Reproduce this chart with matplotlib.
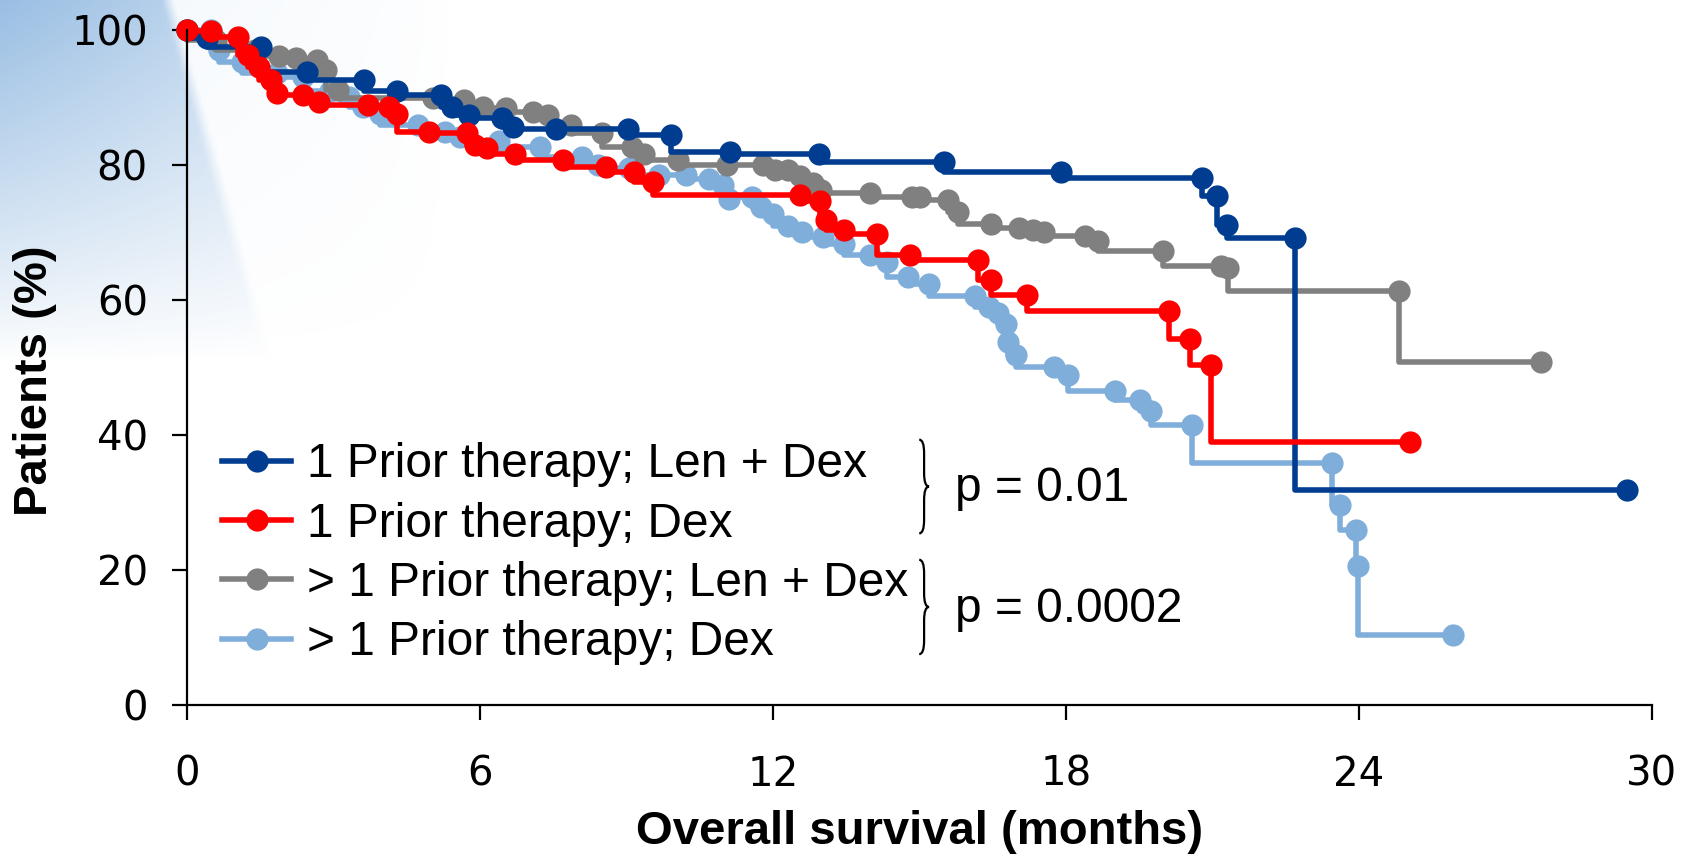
import matplotlib
matplotlib.use("Agg")
import matplotlib.pyplot as plt
import numpy as np
from matplotlib.path import Path
from matplotlib.patches import PathPatch

# Kaplan-Meier curves (months, % alive)
len1_t = [0, 0.42, 1.52, 2.46, 3.64, 4.30, 5.2, 5.44, 5.79, 6.46, 6.69, 7.56, 9.04, 9.91,
          11.12, 12.94, 15.5, 17.9, 20.8, 21.1, 21.3, 22.7, 29.5]
len1_s = [100, 98.8, 97.5, 93.8, 92.6, 90.9, 90.4, 88.6, 87.4, 86.9, 85.7, 85.4, 85.4, 84.4,
          82.0, 81.7, 80.4, 79.0, 78.1, 75.4, 71.1, 69.2, 31.8]

dex1_t = [0, 0.5, 1.05, 1.25, 1.48, 1.72, 1.84, 2.38, 2.70, 3.72, 4.15, 4.30, 4.97, 5.75,
          5.91, 6.15, 6.73, 7.71, 8.58, 9.16, 9.55, 12.55, 12.96, 13.1, 13.47, 14.14, 14.82,
          16.21, 16.47, 17.21, 20.11, 20.54, 20.97, 25.04]
dex1_s = [100, 99.8, 99.0, 96.3, 94.6, 92.6, 90.6, 90.4, 89.4, 88.9, 88.6, 87.6, 84.9, 84.7,
          82.9, 82.5, 81.7, 80.7, 79.7, 79.0, 77.5, 75.5, 74.6, 71.8, 70.4, 69.8, 66.7,
          65.9, 63.0, 60.7, 58.4, 54.2, 50.3, 39.0]

len2_t = [0, 0.6, 1.4, 1.9, 2.23, 2.66, 2.85, 3.09, 5.05, 5.68, 6.07, 6.54, 7.09, 7.40,
          7.87, 8.50, 9.12, 9.36, 10.06, 11.06, 11.8, 12.04, 12.31, 12.55, 12.82, 12.98, 14.0,
          14.86, 15.02, 15.59, 15.8, 16.47, 17.05, 17.33, 17.56, 18.39, 18.66, 19.99, 21.17,
          21.33, 24.82, 27.74]
len2_s = [100, 98.5, 97.0, 96.2, 95.8, 95.6, 94.1, 91.1, 89.9, 89.6, 88.6, 88.4, 87.9, 87.4,
          85.9, 84.7, 82.7, 81.7, 80.7, 80.0, 80.0, 79.3, 79.3, 78.3, 77.3, 76.3, 75.8,
          75.2, 75.2, 74.8, 73.1, 71.2, 70.6, 70.4, 70.0, 69.5, 68.8, 67.2, 65.1,
          64.8, 61.4, 50.8]

dex2_t = [0, 0.5, 0.66, 1.13, 1.84, 2.38, 2.93, 3.32, 3.6, 3.95, 4.73, 5.28, 5.6, 6.4,
          7.24, 8.1, 8.42, 9.05, 9.67, 10.22, 10.7, 10.98, 11.1, 11.57, 11.76, 12.0, 12.31,
          12.59, 13.02, 13.45, 14.0, 14.35, 14.78, 15.21, 16.15, 16.43, 16.62, 16.78, 16.82,
          16.98, 17.76, 18.05, 19.01, 19.52, 19.74, 20.58, 23.45, 23.62, 23.94, 23.98, 25.93]
dex2_s = [100, 100, 97.0, 95.3, 93.6, 93.1, 90.9, 90.1, 88.6, 87.6, 85.9, 84.9, 84.2, 83.5,
          82.7, 81.2, 80.0, 79.5, 78.5, 78.5, 78.0, 77.0, 75.0, 75.3, 73.8, 72.8, 70.9,
          70.1, 69.4, 68.3, 66.7, 65.7, 63.4, 62.3, 60.6, 59.0, 58.0, 56.5, 53.8,
          51.8, 50.0, 48.9, 46.5, 45.1, 43.6, 41.5, 35.9, 29.6, 25.9, 20.6, 10.3]

labels = ["1 Prior therapy; Len + Dex", "1 Prior therapy; Dex",
          "> 1 Prior therapy; Len + Dex", "> 1 Prior therapy; Dex"]
colors = ["#003C8F", "#FF0000", "#808080", "#80AEDB"]
p_values = ["p = 0.01", "p = 0.0002"]

fig = plt.figure(figsize=(16.82, 8.59), dpi=100)

# light blue slide background in the top-left corner
H, W = 215, 420
Y, X = np.mgrid[0:H, 0:W] * 4.0
edge = 172 + 0.28 * Y
wedge = 0.12 + 0.88 * np.clip((edge - X) / 12, 0, 1)
alpha = np.clip(1 - Y / 360, 0, 1) ** 0.9 * np.clip(1 - X / 450, 0, 1) ** 0.7 * wedge * 0.72
bg_img = np.zeros((H, W, 4))
bg_img[..., 0], bg_img[..., 1], bg_img[..., 2] = 0.45, 0.65, 0.85
bg_img[..., 3] = alpha
bg = fig.add_axes([0, 0, 1, 1], zorder=-10)
bg.imshow(bg_img, extent=(0, 1, 0, 1), aspect="auto", interpolation="bilinear")
bg.axis("off")

ax = fig.add_axes([0.111, 0.1795, 0.871, 0.7855])
ax.set_facecolor("none")

series = [(dex2_t, dex2_s, 3), (len2_t, len2_s, 2), (len1_t, len1_s, 0), (dex1_t, dex1_s, 1)]
handles = {}
for t, s, i in series:
    h, = ax.plot(t, s, drawstyle="steps-pre", color=colors[i], lw=4.0, marker="o",
                 markersize=16, markeredgewidth=0, clip_on=False, label=labels[i])
    handles[i] = h

ax.set_xlim(0, 30)
ax.set_ylim(0, 100)
ax.set_xticks(np.arange(0, 31, 6))
ax.set_yticks(np.arange(0, 101, 20))
for side in ["top", "right"]:
    ax.spines[side].set_visible(False)
for side in ["left", "bottom"]:
    ax.spines[side].set_linewidth(1.6)
ax.tick_params(axis="both", direction="out", length=11, width=1.6, labelsize=29)
ax.tick_params(axis="y", pad=17)
ax.tick_params(axis="x", pad=25)

ax.set_xlabel("Overall survival (months)", fontsize=34, fontweight="bold",
              family="Liberation Sans")
ax.set_ylabel("Patients (%)", fontsize=34, fontweight="bold", family="Liberation Sans")
ax.xaxis.label.set_va("center")
ax.yaxis.label.set_va("center")
ax.xaxis.set_label_coords(0.5, -0.188)
ax.yaxis.set_label_coords(-0.1035, 0.48)

leg = ax.legend([handles[i] for i in range(4)], labels, loc="upper left",
                bbox_to_anchor=(0.024, 0.389), frameon=False,
                prop={"family": "Liberation Sans", "size": 34.5},
                handlelength=1.45, handletextpad=0.33, labelspacing=0.3,
                borderpad=0, borderaxespad=0)


def brace(ax, x0, y_top, y_bot, w=0.2, d=2.0):
    ym = (y_top + y_bot) / 2
    xm = x0 + w / 2
    verts = [(x0, y_top), (xm, y_top), (xm, y_top - d),
             (xm, ym + d), (xm, ym), (x0 + w, ym),
             (xm, ym), (xm, ym - d),
             (xm, y_bot + d), (xm, y_bot), (x0, y_bot)]
    codes = [Path.MOVETO, Path.CURVE3, Path.CURVE3,
             Path.LINETO, Path.CURVE3, Path.CURVE3,
             Path.CURVE3, Path.CURVE3,
             Path.LINETO, Path.CURVE3, Path.CURVE3]
    ax.add_patch(PathPatch(Path(verts, codes), fill=False, lw=1.6, color="black"))


brace(ax, 15.0, 39.3, 25.4)
brace(ax, 15.0, 21.5, 7.5)
ax.text(15.73, 32.1, p_values[0], fontsize=34.5, family="Liberation Sans", va="center")
ax.text(15.73, 14.1, p_values[1], fontsize=34.5, family="Liberation Sans", va="center")

fig.savefig("out.png", dpi=100)
